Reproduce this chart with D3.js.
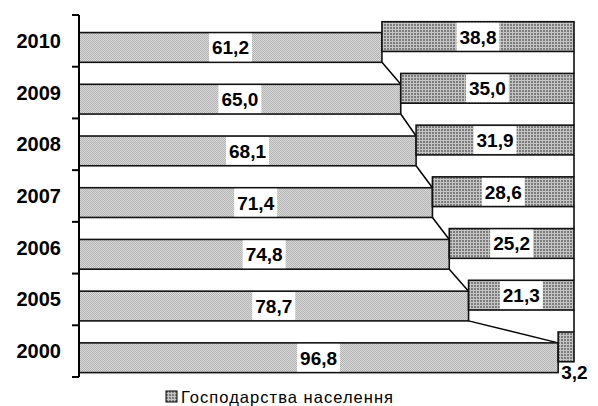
<!DOCTYPE html>
<html>
<head>
<meta charset="utf-8">
<script src="https://cdn.jsdelivr.net/npm/d3@7/dist/d3.min.js"></script>
<style>
  body { margin: 0; background: #fff; }
  svg { display: block; }
</style>
</head>
<body>
<svg id="chart"></svg>
<script>
var width = 598,
    height = 406;

// data (shares, %)
let years = ['2010', '2009', '2008', '2007', '2006', '2005', '2000'];
let otherShare = [61.2, 65.0, 68.1, 71.4, 74.8, 78.7, 96.8];
let householdShare = [38.8, 35.0, 31.9, 28.6, 25.2, 21.3, 3.2];
let legendLabels = ['Господарства населення'];

let rows = years.map(function(y, i) {
    return {year: y, other: otherShare[i], household: householdShare[i]};
});
let keys = ['other', 'household'];
let stacked = d3.stack().keys(keys)(rows);

let svg = d3.select('#chart').attr('width', width).attr('height', height);

// fill patterns like the original grey hatches
let defs = svg.append('defs');
let pLight = defs.append('pattern').attr('id', 'patLight')
    .attr('width', 2).attr('height', 2).attr('patternUnits', 'userSpaceOnUse');
pLight.append('rect').attr('width', 2).attr('height', 2).attr('fill', '#d8d8d8');
pLight.append('rect').attr('width', 1).attr('height', 1).attr('fill', '#b4b4b4');
pLight.append('rect').attr('x', 1).attr('y', 1).attr('width', 1).attr('height', 1).attr('fill', '#b4b4b4');
let pDark = defs.append('pattern').attr('id', 'patDark')
    .attr('width', 3).attr('height', 3).attr('patternUnits', 'userSpaceOnUse');
pDark.append('rect').attr('width', 3).attr('height', 3).attr('fill', '#c4c4c4');
pDark.append('rect').attr('width', 2).attr('height', 2).attr('fill', '#7c7c7c');

let fills = {other: 'url(#patLight)', household: 'url(#patDark)'};

let x = d3.scaleLinear().domain([0, 100]).range([79, 574]);
let y = d3.scaleBand().domain(years).range([15, 377]).paddingInner(0).paddingOuter(0);
let bw = y.bandwidth(),
    barH = bw * 0.575;
// the two series sit a bit apart inside each band, as in the source
let offset = {other: bw * 0.34, household: bw * 0.13};

function barTop(key, year) { return y(year) + offset[key]; }

// series lines between neighbouring bars
let lines = svg.append('g').attr('class', 'series-lines');
stacked.forEach(function(s) {
    for (let i = 0; i < s.length - 1; i++) {
        lines.append('line')
            .attr('x1', x(s[i][1])).attr('y1', barTop(s.key, years[i]) + barH)
            .attr('x2', x(s[i + 1][1])).attr('y2', barTop(s.key, years[i + 1]))
            .attr('stroke', '#000').attr('stroke-width', 1.5);
    }
});

let groups = svg.selectAll('.series')
    .data(stacked)
    .enter()
    .append('g')
    .attr('class', function(d) { return 'series ' + d.key; });

groups.selectAll('rect')
    .data(function(d) { return d.map(function(v) { return {key: d.key, v: v}; }); })
    .enter()
    .append('rect')
    .attr('x', function(d) { return x(d.v[0]); })
    .attr('y', function(d) { return barTop(d.key, d.v.data.year); })
    .attr('width', function(d) { return x(d.v[1]) - x(d.v[0]); })
    .attr('height', barH)
    .attr('fill', function(d) { return fills[d.key]; })
    .attr('stroke', '#111')
    .attr('stroke-width', 1.6);

// value labels
let fmt = function(v) { return v.toFixed(1).replace('.', ','); };
let labels = svg.append('g').attr('class', 'labels');
stacked.forEach(function(s) {
    s.forEach(function(v) {
        let x0 = x(v[0]), x1 = x(v[1]),
            top = barTop(s.key, v.data.year),
            txt = fmt(v[1] - v[0]);
        let g = labels.append('g');
        let t = g.append('text')
            .attr('font-family', 'Liberation Sans, Arial, sans-serif')
            .attr('font-size', '19px')
            .attr('font-weight', 700)
            .attr('fill', '#000')
            .text(txt);
        let tw = t.node().getComputedTextLength();
        if (x1 - x0 > tw + 8) {
            let cx = (x0 + x1) / 2;
            t.attr('text-anchor', 'middle').attr('x', cx).attr('y', top + barH / 2 + 7);
            g.insert('rect', 'text')
                .attr('x', cx - tw / 2 - 3).attr('y', top + 1)
                .attr('width', tw + 6).attr('height', barH - 2)
                .attr('fill', '#fff');
        } else {
            // too narrow: put it under the bar
            t.attr('x', x0 + 3).attr('y', top + barH + 17);
        }
    });
});

// y axis
let axis = svg.append('g').attr('class', 'y-axis');
axis.append('line')
    .attr('x1', 79).attr('x2', 79).attr('y1', 15).attr('y2', 377)
    .attr('stroke', '#000').attr('stroke-width', 2);
let bounds = years.map(function(yr) { return y(yr); }).concat([y.range()[1]]);
axis.selectAll('.tick')
    .data(bounds)
    .enter()
    .append('line')
    .attr('x1', 72).attr('x2', 79)
    .attr('y1', function(d) { return d; }).attr('y2', function(d) { return d; })
    .attr('stroke', '#000').attr('stroke-width', 2);
axis.selectAll('.ylab')
    .data(years)
    .enter()
    .append('text')
    .attr('x', 61)
    .attr('y', function(d) { return y(d) + bw / 2 + 7; })
    .attr('text-anchor', 'end')
    .attr('font-family', 'Liberation Sans, Arial, sans-serif')
    .attr('font-size', '20px')
    .attr('font-weight', 700)
    .text(function(d) { return d; });

// legend
let legend = svg.append('g').attr('class', 'legend').attr('transform', 'translate(166, 391)');
legend.append('rect')
    .attr('width', 11).attr('height', 11)
    .attr('fill', fills.household)
    .attr('stroke', '#000').attr('stroke-width', 1);
legend.append('text')
    .attr('x', 15).attr('y', 11.5)
    .attr('font-family', 'Liberation Sans, Arial, sans-serif')
    .attr('font-size', '16.5px')
    .attr('fill', '#000')
    .attr('textLength', 212)
    .attr('lengthAdjust', 'spacing')
    .text(legendLabels[0]);
</script>
</body>
</html>
